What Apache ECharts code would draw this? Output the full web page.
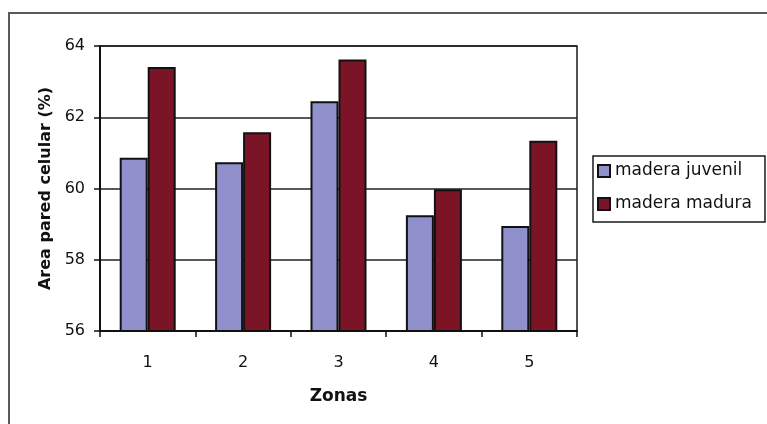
<!DOCTYPE html>
<html>
<head>
<meta charset="utf-8">
<script src="https://cdn.jsdelivr.net/npm/echarts@6/dist/echarts.min.js"></script>
<style>
  html, body { margin: 0; padding: 0; background: #fff; }
  #chart { width: 767px; height: 424px; }
</style>
</head>
<body>
<div id="chart"></div>
<script>
// Zones along the stem and cell-wall area (%) for each wood type
const zonas = ['1', '2', '3', '4', '5'];
const maderaJuvenil = [60.86, 60.74, 62.45, 59.25, 58.95];
const maderaMadura = [63.41, 61.58, 63.62, 59.98, 61.34];
const yTicks = { min: 56, max: 64, step: 2 };

const FONT = 'DejaVu Sans';
const chart = echarts.init(document.getElementById('chart'), null, { renderer: 'canvas' });

chart.setOption({
  backgroundColor: '#ffffff',
  animation: false,
  graphic: [{
    type: 'rect',
    shape: { x: 9, y: 13, width: 800, height: 500 },
    style: { fill: 'none', stroke: '#5a5a5a', lineWidth: 2 },
    silent: true
  }],
  grid: {
    left: 100, top: 46, width: 477, height: 285,
    show: true, borderColor: '#1a1a1a', borderWidth: 1.5, backgroundColor: '#ffffff'
  },
  legend: {
    orient: 'vertical',
    left: 593, top: 156,
    padding: [5, 13, 8, 4],
    itemGap: 13,
    itemWidth: 12, itemHeight: 12,
    icon: 'rect',
    borderColor: '#1a1a1a', borderWidth: 1.5,
    backgroundColor: '#ffffff',
    textStyle: { fontFamily: FONT, fontSize: 17, color: '#111', lineHeight: 20 },
    data: ['madera juvenil', 'madera madura']
  },
  xAxis: {
    type: 'category',
    data: zonas,
    name: 'Zonas',
    nameLocation: 'middle',
    nameGap: 57,
    nameTextStyle: { fontFamily: FONT, fontSize: 17, fontWeight: 'bold', color: '#111' },
    axisLine: { lineStyle: { color: '#111', width: 2 } },
    axisTick: { show: true, length: 6, lineStyle: { color: '#111', width: 1.5 } },
    axisLabel: { fontFamily: FONT, fontSize: 16, color: '#111', margin: 24 }
  },
  yAxis: {
    type: 'value',
    min: yTicks.min, max: yTicks.max, interval: yTicks.step,
    name: 'Area pared celular (%)',
    nameLocation: 'middle',
    nameGap: 46,
    nameTextStyle: { fontFamily: FONT, fontSize: 16, fontWeight: 'bold', color: '#111' },
    axisLine: { show: true, lineStyle: { color: '#111', width: 2 } },
    axisTick: { show: true, length: 6, lineStyle: { color: '#111', width: 1.5 } },
    axisLabel: { fontFamily: FONT, fontSize: 16, color: '#111', margin: 15 },
    splitLine: { show: true, lineStyle: { color: '#222', width: 1.5 } }
  },
  series: [
    {
      name: 'madera juvenil',
      type: 'bar',
      data: maderaJuvenil,
      barWidth: 28,
      barGap: '0%',
      itemStyle: { color: '#9090cc', borderColor: '#111', borderWidth: 2 }
    },
    {
      name: 'madera madura',
      type: 'bar',
      data: maderaMadura,
      barWidth: 28,
      itemStyle: { color: '#7c1428', borderColor: '#111', borderWidth: 2 }
    }
  ]
});
</script>
</body>
</html>
